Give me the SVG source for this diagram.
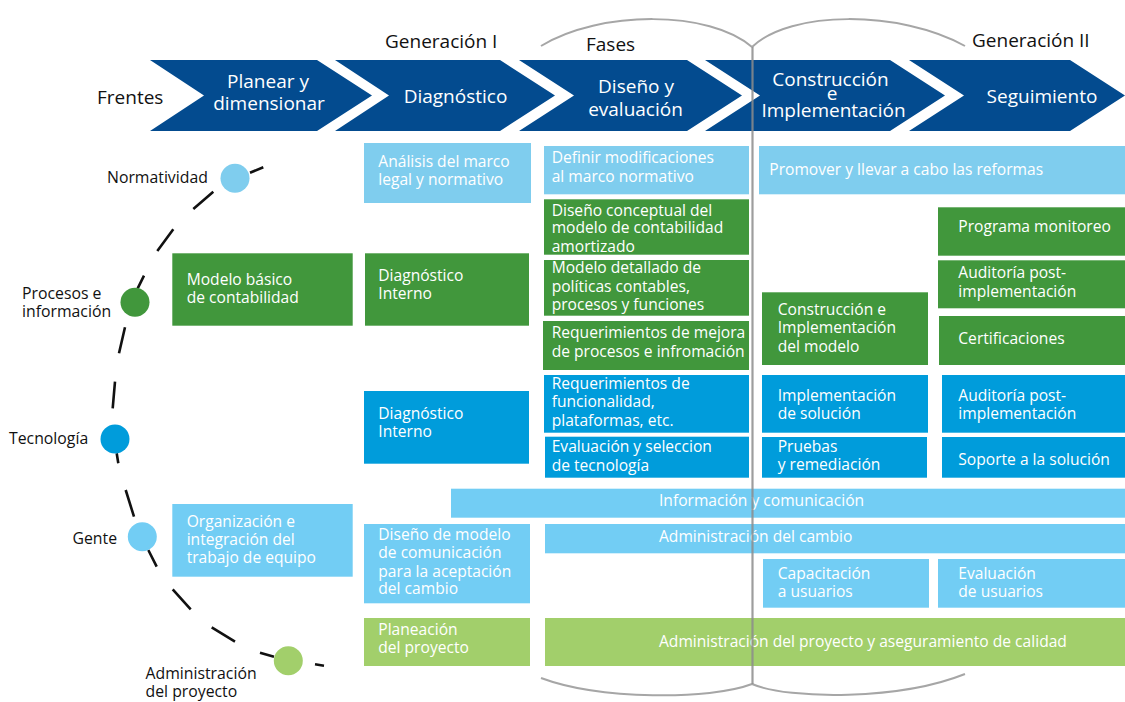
<svg xmlns="http://www.w3.org/2000/svg" width="1125" height="702" viewBox="0 0 1125 702">
<style>
text{font-family:"Open Sans","Noto Sans","Liberation Sans",sans-serif;}
.hdr{font-size:19px;fill:#ffffff;text-anchor:middle;}
.top{font-size:19px;fill:#111111;}
.lbl{font-size:15.8px;fill:#111111;}
.bt{font-size:15.6px;fill:#ffffff;}
.chev{fill:#034b8f;}
.lb{fill:#7fcdee;}
.gr{fill:#41973c;}
.bl{fill:#009cdb;}
.lb2{fill:#72cdf4;}
.lg{fill:#a2cf6b;}
.brace{fill:none;stroke:#a6a6a6;stroke-width:2;}
.dash{fill:none;stroke:#111111;stroke-width:2.6;stroke-linecap:butt;}
</style>
<rect width="1125" height="702" fill="#ffffff"/>

<!-- top labels -->
<text class="top" x="385" y="48">Generación I</text>
<text class="top" x="586" y="51">Fases</text>
<text class="top" x="972" y="47">Generación II</text>
<text class="top" x="97" y="104">Frentes</text>

<!-- braces -->
<g id="braces">
<path class="brace" d="M541,46 C600,10 710,10 752,47"/>
<path class="brace" d="M752,47 C790,10 900,10 965,46"/>
<path class="brace" d="M541,678 C600,700 710,700 752,684"/>
<path class="brace" d="M752,684 C790,700 900,700 965,674"/>
</g>

<!-- phase chevrons -->
<g id="phase-planear">
<polygon class="chev" points="150,60 317,60 372,95.5 317,131 150,131 204,95.5"/>
<text class="hdr" x="268" y="87.5">Planear y</text>
<text class="hdr" x="269" y="110">dimensionar</text>
</g>
<g id="phase-diagnostico">
<polygon class="chev" points="335,60 500,60 555,95.5 500,131 335,131 389,95.5"/>
<text class="hdr" x="455.5" y="103">Diagnóstico</text>
</g>
<g id="phase-diseno">
<polygon class="chev" points="519,60 687,60 742,95.5 687,131 519,131 574,95.5"/>
<text class="hdr" x="636" y="93">Diseño y</text>
<text class="hdr" x="635.5" y="116">evaluación</text>
</g>
<g id="phase-construccion">
<polygon class="chev" points="705,60 890,60 945,95.5 890,131 705,131 760,95.5"/>
<text class="hdr" x="830.5" y="85.5">Construcción</text>
<text class="hdr" x="832" y="100">e</text>
<text class="hdr" x="833.5" y="117">Implementación</text>
</g>
<g id="phase-seguimiento">
<polygon class="chev" points="909,60 1070,60 1125,95.5 1070,131 909,131 964,95.5"/>
<text class="hdr" x="1042" y="103">Seguimiento</text>
</g>

<!-- frentes arc -->
<g id="connectors">
<path class="dash" d="M250,172.7 L263.3,167.3 M213.3,191.7 L193.3,209 M173.3,229.3 L157.3,251 M144,275.7 L137.7,288.3 M125,327.3 L119,353.3 M115,381.7 L112.7,408.3 M116.7,453.3 L118.3,463.3 M125.7,490 L134,516.7 M148.3,550 L156.7,566.7 M172.7,589.3 L190.7,609.3 M211.7,627.3 L235,641.7 M260,652.7 L274,656.7 M315,664.3 L324,665.7"/>
</g>

<!-- frentes -->
<g id="frente-normatividad">
<circle cx="235" cy="178.3" r="14.5" fill="#7fcdee"/>
<text class="lbl" x="107" y="182.7">Normatividad</text>
</g>
<g id="frente-procesos">
<circle cx="135" cy="302.3" r="14.5" fill="#41973c"/>
<text class="lbl" x="22" y="299">Procesos e</text>
<text class="lbl" x="22" y="316.7">información</text>
</g>
<g id="frente-tecnologia">
<circle cx="115" cy="439" r="14.5" fill="#009cdb"/>
<text class="lbl" x="9" y="444.3">Tecnología</text>
</g>
<g id="frente-gente">
<circle cx="142.3" cy="536.7" r="14.5" fill="#72cdf4"/>
<text class="lbl" x="72.5" y="544.3">Gente</text>
</g>
<g id="frente-administracion">
<circle cx="288.3" cy="660.7" r="14.5" fill="#a2cf6b"/>
<text class="lbl" x="145.5" y="679.3">Administración</text>
<text class="lbl" x="145.5" y="696.7">del proyecto</text>
</g>

<!-- Normatividad row -->
<g id="n-analisis">
<rect class="lb" x="364" y="143" width="167" height="60"/>
<text class="bt" x="378.3" y="166.7">Análisis del marco</text>
<text class="bt" x="378.3" y="185">legal y normativo</text>
</g>
<g id="n-definir">
<rect class="lb" x="544" y="146" width="205" height="48.3"/>
<text class="bt" x="551.7" y="163.3">Definir modificaciones</text>
<text class="bt" x="551.7" y="181.7">al marco normativo</text>
</g>
<g id="n-promover">
<rect class="lb" x="759" y="146" width="366" height="48.3"/>
<text class="bt" x="769.3" y="175">Promover y llevar a cabo las reformas</text>
</g>

<!-- Procesos row -->
<g id="p-modelo-basico">
<rect class="gr" x="172.3" y="253.3" width="180.4" height="72.4"/>
<text class="bt" x="186.7" y="285">Modelo básico</text>
<text class="bt" x="186.7" y="303.3">de contabilidad</text>
</g>
<g id="p-diagnostico">
<rect class="gr" x="365" y="253.3" width="164" height="72.4"/>
<text class="bt" x="378.3" y="280.7">Diagnóstico</text>
<text class="bt" x="378.3" y="299">Interno</text>
</g>
<g id="p-diseno-conceptual">
<rect class="gr" x="544" y="199.3" width="205" height="55.4"/>
<text class="bt" x="551.7" y="216">Diseño conceptual del</text>
<text class="bt" x="551.7" y="233.3">modelo de contabilidad</text>
<text class="bt" x="551.7" y="251.7">amortizado</text>
</g>
<g id="p-modelo-detallado">
<rect class="gr" x="544" y="260" width="205" height="55.7"/>
<text class="bt" x="551.7" y="273.3">Modelo detallado de</text>
<text class="bt" x="551.7" y="291.7">políticas contables,</text>
<text class="bt" x="551.7" y="310">procesos y funciones</text>
</g>
<g id="p-requerimientos">
<rect class="gr" x="543" y="321" width="206" height="49"/>
<text class="bt" x="551.7" y="338.3">Requerimientos de mejora</text>
<text class="bt" x="551.7" y="356.7">de procesos e infromación</text>
</g>
<g id="p-construccion">
<rect class="gr" x="762" y="292.3" width="166" height="72.7"/>
<text class="bt" x="777.7" y="315">Construcción e</text>
<text class="bt" x="777.7" y="333.3">Implementación</text>
<text class="bt" x="777.7" y="351.7">del modelo</text>
</g>
<g id="p-programa">
<rect class="gr" x="938" y="207.3" width="187" height="48.4"/>
<text class="bt" x="958.3" y="231.7">Programa monitoreo</text>
</g>
<g id="p-auditoria">
<rect class="gr" x="938" y="260.3" width="187" height="48"/>
<text class="bt" x="958.3" y="278.3">Auditoría post-</text>
<text class="bt" x="958.3" y="296.7">implementación</text>
</g>
<g id="p-certificaciones">
<rect class="gr" x="939" y="316" width="186" height="49"/>
<text class="bt" x="958.3" y="344">Certificaciones</text>
</g>

<!-- Tecnologia row -->
<g id="t-diagnostico">
<rect class="bl" x="364" y="391" width="165" height="72.7"/>
<text class="bt" x="378.3" y="419">Diagnóstico</text>
<text class="bt" x="378.3" y="436.7">Interno</text>
</g>
<g id="t-requerimientos">
<rect class="bl" x="544" y="375" width="205" height="57.7"/>
<text class="bt" x="551.7" y="389">Requerimientos de</text>
<text class="bt" x="551.7" y="407.3">funcionalidad,</text>
<text class="bt" x="551.7" y="425.7">plataformas, etc.</text>
</g>
<g id="t-evaluacion">
<rect class="bl" x="545" y="436.7" width="204" height="41"/>
<text class="bt" x="551.7" y="452.3">Evaluación y seleccion</text>
<text class="bt" x="551.7" y="470.7">de tecnología</text>
</g>
<g id="t-implementacion">
<rect class="bl" x="762" y="375" width="166" height="57.7"/>
<text class="bt" x="777.7" y="400.7">Implementación</text>
<text class="bt" x="777.7" y="419">de solución</text>
</g>
<g id="t-auditoria">
<rect class="bl" x="942" y="375" width="183" height="57.7"/>
<text class="bt" x="958.3" y="400.7">Auditoría post-</text>
<text class="bt" x="958.3" y="419">implementación</text>
</g>
<g id="t-pruebas">
<rect class="bl" x="762" y="437" width="165" height="40.7"/>
<text class="bt" x="777.7" y="451.7">Pruebas</text>
<text class="bt" x="777.7" y="470">y remediación</text>
</g>
<g id="t-soporte">
<rect class="bl" x="942" y="437" width="183" height="40.7"/>
<text class="bt" x="958.3" y="465">Soporte a la solución</text>
</g>

<!-- Gente row -->
<g id="g-informacion">
<rect class="lb2" x="451" y="488.7" width="674" height="29"/>
<text class="bt" x="659" y="505.7">Información y comunicación</text>
</g>
<g id="g-organizacion">
<rect class="lb2" x="172.3" y="504" width="180.4" height="72.7"/>
<text class="bt" x="186.7" y="526.7">Organización e</text>
<text class="bt" x="186.7" y="545">integración del</text>
<text class="bt" x="186.7" y="563.3">trabajo de equipo</text>
</g>
<g id="g-diseno-comunicacion">
<rect class="lb2" x="364" y="524" width="166" height="79.3"/>
<text class="bt" x="378.3" y="540">Diseño de modelo</text>
<text class="bt" x="378.3" y="558.3">de comunicación</text>
<text class="bt" x="378.3" y="576.7">para la aceptación</text>
<text class="bt" x="378.3" y="594.3">del cambio</text>
</g>
<g id="g-cambio">
<rect class="lb2" x="545" y="524" width="580" height="29.3"/>
<text class="bt" x="659" y="542.3">Administración del cambio</text>
</g>
<g id="g-capacitacion">
<rect class="lb2" x="763" y="559" width="166" height="48.7"/>
<text class="bt" x="777.7" y="579">Capacitación</text>
<text class="bt" x="777.7" y="597.3">a usuarios</text>
</g>
<g id="g-evaluacion">
<rect class="lb2" x="938" y="559" width="187" height="48.7"/>
<text class="bt" x="958.3" y="579">Evaluación</text>
<text class="bt" x="958.3" y="597.3">de usuarios</text>
</g>

<!-- Administracion row -->
<g id="a-planeacion">
<rect class="lg" x="364" y="618" width="166" height="48"/>
<text class="bt" x="378.3" y="634.5">Planeación</text>
<text class="bt" x="378.3" y="653">del proyecto</text>
</g>
<g id="a-administracion">
<rect class="lg" x="545" y="618" width="580" height="48"/>
<text class="bt" x="659" y="647">Administración del proyecto y aseguramiento de calidad</text>
</g>

<!-- generation divider -->
<line x1="752.5" y1="47" x2="752.5" y2="684" stroke="#8c8c8c" stroke-width="2.2" stroke-opacity="0.85"/>
</svg>
